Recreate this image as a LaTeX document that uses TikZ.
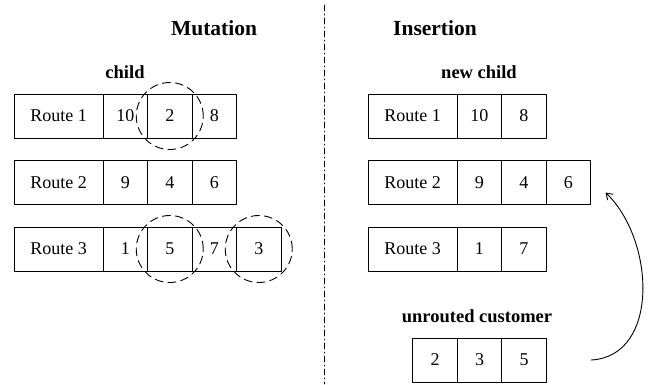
\documentclass[tikz,border=0pt]{standalone}
\usepackage{fontspec}
\setmainfont{Liberation Serif}
\usetikzlibrary{positioning,arrows.meta}

\tikzset{
  cell/.style={draw,line width=1pt,minimum width=44.5pt,minimum height=44pt,inner sep=0pt,outer sep=0pt,font=\fontsize{18}{20}\selectfont},
  routecell/.style={cell,minimum width=89pt},
  ring/.style={draw,circle,dash pattern=on 8pt off 5pt,line width=0.9pt,minimum size=67pt,inner sep=0pt},
  heading/.style={font=\fontsize{21.5}{24}\selectfont\bfseries},
  caption/.style={font=\fontsize{18.5}{20}\selectfont\bfseries}
}

\begin{document}
\begin{tikzpicture}[x=1pt,y=-1pt,line cap=round,line join=round]
  \useasboundingbox (0,0) rectangle (657,384);

  % headings
  \node[heading] (mut) at (214,28) {Mutation};
  \node[heading] (ins) at (435,28) {Insertion};
  \node[caption] (child) at (125,72) {child};
  \node[caption] (newchild) at (479,72) {new child};
  \node[caption] (unrouted) at (477,316) {unrouted customer};

  % divider
  \draw[line width=0.8pt,dash pattern=on 6pt off 3pt on 1pt off 3pt] (324,5) -- (324,384);

  % mutation: child routes
  \node[routecell] (mr1) at (58.5,116) {Route 1};
  \node[cell,right=0pt of mr1] (mr1a) {10};
  \node[cell,right=0pt of mr1a] (mr1b) {2};
  \node[cell,right=0pt of mr1b] (mr1c) {8};

  \node[routecell] (mr2) at (58.5,182.5) {Route 2};
  \node[cell,right=0pt of mr2] (mr2a) {9};
  \node[cell,right=0pt of mr2a] (mr2b) {4};
  \node[cell,right=0pt of mr2b] (mr2c) {6};

  \node[routecell] (mr3) at (58.5,249) {Route 3};
  \node[cell,right=0pt of mr3] (mr3a) {1};
  \node[cell,right=0pt of mr3a] (mr3b) {5};
  \node[cell,right=0pt of mr3b] (mr3c) {7};
  \node[cell,right=0pt of mr3c] (mr3d) {3};

  % removed customers
  \node[ring] (ring1) at (mr1b) {};
  \node[ring] (ring2) at (mr3b) {};
  \node[ring] (ring3) at (mr3d) {};

  % insertion: new child routes
  \node[routecell] (ir1) at (412.5,116) {Route 1};
  \node[cell,right=0pt of ir1] (ir1a) {10};
  \node[cell,right=0pt of ir1a] (ir1b) {8};

  \node[routecell] (ir2) at (412.5,182.5) {Route 2};
  \node[cell,right=0pt of ir2] (ir2a) {9};
  \node[cell,right=0pt of ir2a] (ir2b) {4};
  \node[cell,right=0pt of ir2b] (ir2c) {6};

  \node[routecell] (ir3) at (412.5,249) {Route 3};
  \node[cell,right=0pt of ir3] (ir3a) {1};
  \node[cell,right=0pt of ir3a] (ir3b) {7};

  % unrouted customers
  \node[cell] (ua) at (435,360) {2};
  \node[cell,right=0pt of ua] (ub) {3};
  \node[cell,right=0pt of ub] (uc) {5};

  \coordinate (from) at ([xshift=45pt]uc.east);
  \coordinate (to) at ([shift={(15pt,12pt)}]ir2c.south east);
  \draw[line width=0.9pt,-{Straight Barb[length=6pt,width=8pt]}] (from) .. controls (660,356) and (655,240) .. (to);
\end{tikzpicture}
\end{document}
